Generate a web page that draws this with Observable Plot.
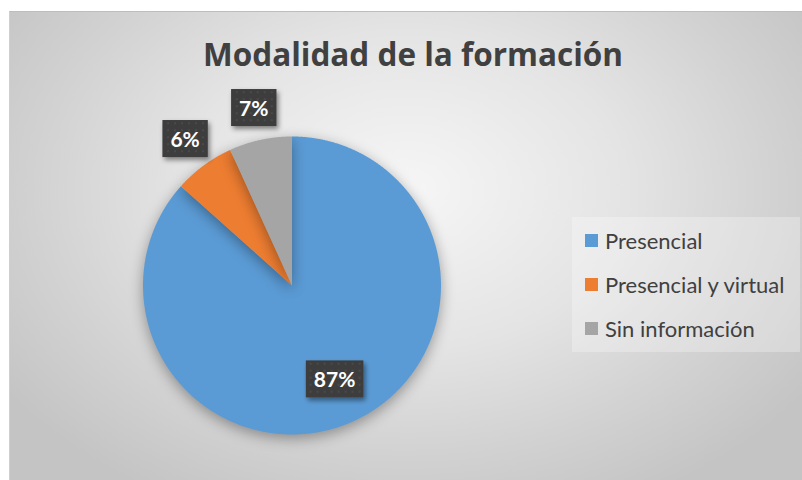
<!DOCTYPE html>
<html>
<head>
<meta charset="utf-8">
<script src="https://cdn.jsdelivr.net/npm/d3@7"></script>
<script src="https://cdn.jsdelivr.net/npm/@observablehq/plot@0.6"></script>
<style>
  html, body { margin: 0; padding: 0; background: #ffffff; }
  #wrap { position: relative; width: 802px; height: 480px; overflow: hidden; background: #fff; }
  #bg { position: absolute; left: 9px; top: 11px; right: 0; bottom: 0;
        border-top: 1px solid #bdbdbd; border-left: 1px solid #cfcfcf;
        background: radial-gradient(ellipse 62% 75% at 50% 38%, #f6f6f6 0%, #e4e4e4 45%, #d2d2d2 75%, #c4c4c4 100%); }
  #title { position: absolute; left: 0; width: 826px; top: 33px; text-align: center; line-height: 1.35;
           font-family: "Open Sans", Lato, sans-serif; font-weight: bold; font-size: 31.5px; color: #404040; }
  #chart { position: absolute; left: 0; top: 0; }
  #chart svg { background: transparent !important; }
  .pie { filter: drop-shadow(0px 4px 7px rgba(0,0,0,0.35)); }
  #legend { position: absolute; left: 572px; top: 217px; width: 228px; height: 135px;
            background: rgba(255,255,255,0.28); font-family: Lato, "Open Sans", sans-serif;
            font-size: 22px; color: #404040; }
  .lg-row { position: absolute; left: 13px; display: flex; align-items: center; height: 26px; }
  .lg-sw { width: 13px; height: 13px; margin-right: 7px; }
</style>
</head>
<body>
<div id="wrap">
  <div id="bg"></div>
  <div id="title"></div>
  <div id="chart"></div>
  <div id="legend"></div>
</div>
<script>
const titleText = "Modalidad de la formación";
const categories = ["Presencial", "Presencial y virtual", "Sin información"];
const values = [86.6, 6.6, 6.8];
const colors = ["#5B9BD5", "#ED7D31", "#A5A5A5"];
const labels = ["87%", "6%", "7%"];

document.getElementById("title").textContent = titleText;

const cx = 291.5, cy = 285, r = 149;

const arcs = d3.pie().sort(null).value(d => d.value)(
  categories.map((c, i) => ({category: c, value: values[i], color: colors[i], label: labels[i]}))
);

function slicePoints(a) {
  const pts = [{x: 0, y: 0}];
  const n = Math.max(2, Math.ceil((a.endAngle - a.startAngle) / 0.005));
  for (let k = 0; k <= n; k++) {
    const t = a.startAngle + (a.endAngle - a.startAngle) * k / n;
    pts.push({x: Math.sin(t), y: Math.cos(t)});
  }
  pts.push({x: 0, y: 0});
  return pts;
}

const labelData = arcs.map(a => {
  const mid = (a.startAngle + a.endAngle) / 2;
  const rr = a.data.value < 10 ? 1.21 : 0.7;
  return {x: Math.sin(mid) * rr, y: Math.cos(mid) * rr, label: a.data.label};
});

const chart = Plot.plot({
  width: 802,
  height: 480,
  margin: 0,
  style: {background: "transparent"},
  x: {domain: [-1, 1], range: [cx - r, cx + r], axis: null},
  y: {domain: [-1, 1], range: [cy + r, cy - r], axis: null},
  marks: [
    ...arcs.map(a => Plot.line(slicePoints(a), {x: "x", y: "y", fill: a.data.color, stroke: "none", className: "pie"})),
    Plot.text(labelData, {x: "x", y: "y", text: "label", fill: "white", fontWeight: "bold",
      fontSize: 21, fontFamily: "Lato, 'Open Sans', sans-serif", className: "pct"})
  ]
});
document.getElementById("chart").append(chart);

// pattern + shadow for label boxes
const svg = d3.select(chart.tagName.toLowerCase() === "svg" ? chart : chart.querySelector("svg"));
const defs = svg.insert("defs", ":first-child");
const pat = defs.append("pattern").attr("id", "dots").attr("width", 7).attr("height", 7)
  .attr("patternUnits", "userSpaceOnUse");
pat.append("rect").attr("width", 7).attr("height", 7).attr("fill", "#3d3d3d");
pat.append("rect").attr("x", 3).attr("y", 3).attr("width", 2).attr("height", 2).attr("fill", "#4a4a4a");
const flt = defs.append("filter").attr("id", "shadow").attr("x", "-30%").attr("y", "-30%").attr("width", "170%").attr("height", "170%");
flt.append("feDropShadow").attr("dx", 2).attr("dy", 3).attr("stdDeviation", 2.5).attr("flood-color", "#000").attr("flood-opacity", 0.45);

svg.selectAll(".pct text").each(function() {
  const b = this.getBBox();
  const padX = 8, h = 37;
  const tr = this.getAttribute("transform");
  const rect = d3.select(this.parentNode).insert("rect", () => this)
    .attr("x", b.x - padX).attr("y", b.y + b.height / 2 - h / 2)
    .attr("width", b.width + 2 * padX).attr("height", h)
    .attr("fill", "url(#dots)").attr("filter", "url(#shadow)");
  if (tr) rect.attr("transform", tr);
});

// legend
const legend = document.getElementById("legend");
categories.forEach((c, i) => {
  const row = document.createElement("div");
  row.className = "lg-row";
  row.style.top = (10 + i * 44) + "px";
  const sw = document.createElement("div");
  sw.className = "lg-sw";
  sw.style.background = colors[i];
  const tx = document.createElement("span");
  tx.textContent = c;
  row.append(sw, tx);
  legend.append(row);
});
</script>
</body>
</html>
